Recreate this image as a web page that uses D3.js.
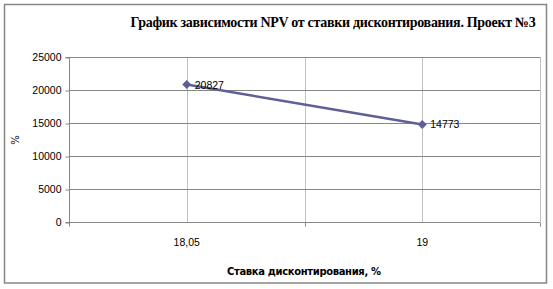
<!DOCTYPE html>
<html>
<head>
<meta charset="utf-8">
<script src="https://cdn.jsdelivr.net/npm/d3@7"></script>
<style>
  body { margin: 0; background: #fff; }
  svg { display: block; }
</style>
</head>
<body>
<svg id="chart" width="553" height="289"></svg>
<script>
// Chart data
const categories = ['18,05', '19'];
const npvValues = [20827, 14773];
const yTicks = [0, 5000, 10000, 15000, 20000, 25000];
const titleText = 'График зависимости NPV от ставки дисконтирования. Проект №3';
const xTitleText = 'Ставка дисконтирования, %';
const yTitleText = '%';

const svg = d3.select('#chart');
const plot = { left: 69, right: 540, top: 57, bottom: 222 };

// Outer frame
svg.append('rect')
    .attr('x', 4.5).attr('y', 4.5)
    .attr('width', 542).attr('height', 278.5)
    .attr('fill', '#fff')
    .attr('stroke', '#868686')
    .attr('stroke-width', 1.5);

const x = d3.scaleBand().domain(categories).range([plot.left, plot.right]);
const y = d3.scaleLinear().domain([0, 25000]).range([plot.bottom, plot.top]);

// Vertical gridlines (category centres and band edges)
const vLines = [];
categories.forEach(c => {
    vLines.push(x(c) + x.bandwidth() / 2);
    vLines.push(x(c) + x.bandwidth());
});
svg.append('g').selectAll('line')
    .data(vLines)
    .join('line')
    .attr('x1', d => Math.round(d) + 0.5).attr('x2', d => Math.round(d) + 0.5)
    .attr('y1', plot.top).attr('y2', plot.bottom)
    .attr('stroke', '#c0c0c0')
    .attr('stroke-width', 1);

// Horizontal gridlines
svg.append('g').selectAll('line')
    .data(yTicks.filter(t => t > 0))
    .join('line')
    .attr('x1', plot.left).attr('x2', plot.right)
    .attr('y1', d => Math.round(y(d)) + 0.5).attr('y2', d => Math.round(y(d)) + 0.5)
    .attr('stroke', '#868686')
    .attr('stroke-width', 1);

// Y axis
const yAxis = svg.append('g')
    .attr('transform', `translate(${plot.left + 0.5},0.5)`)
    .call(d3.axisLeft(y).tickValues(yTicks).tickSize(4).tickPadding(4).tickFormat(d3.format('d')));
yAxis.select('.domain').attr('stroke', '#868686').attr('d', `M-4,${plot.top}H0V${plot.bottom}H-4`);
yAxis.selectAll('.tick line').attr('stroke', '#868686');
yAxis.selectAll('text')
    .attr('fill', '#000')
    .style('font-family', "'Liberation Sans', Arial, sans-serif")
    .style('font-size', '10.5px');

// X axis (ticks at band edges)
const xAxisG = svg.append('g').attr('transform', `translate(0,${Math.round(plot.bottom) + 0.5})`);
xAxisG.append('line')
    .attr('x1', plot.left).attr('x2', plot.right)
    .attr('stroke', '#868686');
xAxisG.selectAll('line.tk')
    .data([plot.left, ...categories.map(c => x(c) + x.bandwidth())])
    .join('line')
    .attr('class', 'tk')
    .attr('x1', d => Math.round(d) + 0.5).attr('x2', d => Math.round(d) + 0.5)
    .attr('y1', 0).attr('y2', 4)
    .attr('stroke', '#868686');
xAxisG.selectAll('text')
    .data(categories)
    .join('text')
    .attr('x', d => x(d) + x.bandwidth() / 2)
    .attr('y', 23)
    .attr('text-anchor', 'middle')
    .attr('fill', '#000')
    .style('font-family', "'Liberation Sans', Arial, sans-serif")
    .style('font-size', '10.5px')
    .text(d => d);

// Line series
const pts = categories.map((c, i) => [x(c) + x.bandwidth() / 2, y(npvValues[i])]);
svg.append('path')
    .attr('d', d3.line()(pts))
    .attr('fill', 'none')
    .attr('stroke', '#5f5f96')
    .attr('stroke-width', 2.5);

// Diamond markers
svg.append('g').selectAll('path')
    .data(pts)
    .join('path')
    .attr('transform', d => `translate(${d[0]},${d[1]})`)
    .attr('d', 'M0,-4.5L4.5,0L0,4.5L-4.5,0Z')
    .attr('fill', '#5f5f96');

// Data labels
svg.append('g').selectAll('text')
    .data(pts)
    .join('text')
    .attr('x', d => d[0] + 8)
    .attr('y', (d, i) => d[1] + 4)
    .attr('fill', '#000')
    .style('font-family', "'Liberation Sans', Arial, sans-serif")
    .style('font-size', '10.5px')
    .text((d, i) => npvValues[i]);

// Title
svg.append('text')
    .attr('x', 333).attr('y', 27)
    .attr('text-anchor', 'middle')
    .attr('fill', '#000')
    .style('font-family', "'Liberation Serif', 'Times New Roman', serif")
    .style('font-weight', 'bold')
    .style('font-size', '14px')
    .style('letter-spacing', '-0.3px')
    .text(titleText);

// X axis title
svg.append('text')
    .attr('x', 227).attr('y', 275)
    .attr('textLength', 154)
    .attr('lengthAdjust', 'spacing')
    .attr('fill', '#000')
    .style('font-family', "'DejaVu Sans', sans-serif")
    .style('font-weight', 'bold')
    .style('font-size', '10px')
    .text(xTitleText);

// Y axis title
svg.append('text')
    .attr('transform', 'translate(19,140) rotate(-90)')
    .attr('text-anchor', 'middle')
    .attr('fill', '#000')
    .style('font-family', "'DejaVu Sans', sans-serif")
    .style('font-size', '10px')
    .text(yTitleText);
</script>
</body>
</html>
